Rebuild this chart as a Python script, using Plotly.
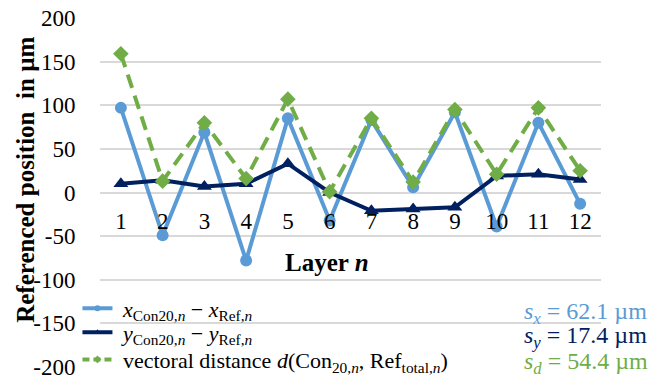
import plotly.graph_objects as go

layers = [1, 2, 3, 4, 5, 6, 7, 8, 9, 10, 11, 12]
x_dev = [97, -49, 69, -78, 85, -32, 83, 6, 92, -39, 80, -13]
y_dev = [10, 14, 7, 10, 33, 0, -21, -19, -17, 19, 21, 15]
d_dist = [159, 13, 80, 16, 107, 1, 85, 12, 95, 21, 97, 25]
y_ticks = [-200, -150, -100, -50, 0, 50, 100, 150, 200]
y_ticktext = ["-200", "-150", "-100", "-50", "0", "50", "100", "150", "200"]
stats = ["62.1", "17.4", "54.4"]
names = ["<i>x</i><sub>Con20,<i>n</i></sub> − <i>x</i><sub>Ref,<i>n</i></sub>",
         "<i>y</i><sub>Con20,<i>n</i></sub> − <i>y</i><sub>Ref,<i>n</i></sub>",
         "vectoral distance <i>d</i>(Con<sub>20,<i>n</i></sub>, Ref<sub>total,<i>n</i></sub>)"]

c_x = "#5B9BD5"
c_y = "#002060"
c_d = "#70AD47"
FONT = "Liberation Serif"

series = [x_dev, y_dev, d_dist]
colors = [c_x, c_y, c_d]
symbols = ["circle", "triangle-up", "diamond"]
msizes = [12, 13, 12]
dashes = ["solid", "solid", "14px,8px"]
legends = ["legend", "legend2", "legend3"]

fig = go.Figure()
for vals, nm, c, s, ms, da in zip(series, names, colors, symbols, msizes, dashes):
    fig.add_trace(go.Scatter(
        x=layers, y=vals, mode="lines+markers", name=nm, showlegend=False,
        line=dict(color=c, width=4, dash=da), marker=dict(symbol=s, size=ms, color=c)))
# legend entries (small markers like the original legend keys)
for nm, c, s, da, lg in zip(names, colors, symbols, dashes, legends):
    fig.add_trace(go.Scatter(
        x=[None], y=[None], mode="lines+markers", name="\u00a0" + nm, legend=lg, showlegend=True,
        line=dict(color=c, width=4, dash="7px,4px" if da != "solid" else "solid"),
        marker=dict(symbol=s, size=6, color=c)))

# hide gridlines below -100 (legend area)
fig.add_shape(type="rect", xref="paper", yref="y", x0=0, x1=1, y0=-125, y1=-215,
              fillcolor="white", line=dict(width=0), layer="between")

stat_labels = ["<i>s<sub>x</sub></i> = " + stats[0] + " µm",
               "<i>s<sub>y</sub></i> = " + stats[1] + " µm",
               "<i>s<sub>d</sub></i> = " + stats[2] + " µm"]
row_y = [0.155, 0.086, 0.011]
for t, c, yy in zip(stat_labels, colors, row_y):
    fig.add_annotation(xref="paper", yref="paper", x=0.843, y=yy, text=t, showarrow=False,
                       xanchor="left", yanchor="middle", font=dict(family=FONT, size=24, color=c))

# axis titles
fig.add_annotation(xref="paper", yref="paper", x=-0.148, y=0.536, text="<b>Referenced position  in µm</b>",
                   textangle=-90, showarrow=False, xanchor="center", yanchor="middle",
                   font=dict(family=FONT, size=25, color="black"))
fig.add_annotation(xref="paper", yref="y", x=0.453, y=-80, text="<b>Layer <i>n</i></b>",
                   showarrow=False, xanchor="center", yanchor="middle",
                   font=dict(family=FONT, size=25, color="black"))

leg_common = dict(x=-0.045, xanchor="left", yanchor="middle", bgcolor="rgba(255,255,255,0)",
                  font=dict(family=FONT, size=22, color="black"))

fig.update_layout(
    width=654, height=392,
    margin=dict(l=100, r=53, t=18, b=25, autoexpand=False),
    plot_bgcolor="white", paper_bgcolor="white",
    font=dict(family=FONT, size=21, color="black"),
    showlegend=True,
    legend=dict(y=row_y[0] + 0.013, **leg_common),
    legend2=dict(y=row_y[1] + 0.013, **leg_common),
    legend3=dict(y=row_y[2] + 0.010, **leg_common),
    xaxis=dict(range=[0.5, 12.5], tickvals=layers, ticktext=[str(v) for v in layers],
               anchor="free", position=0.5, showgrid=False, showline=False, zeroline=False,
               ticks="outside", ticklen=8, tickcolor="rgba(0,0,0,0)", automargin=False,
               tickfont=dict(family=FONT, size=23)),
    yaxis=dict(range=[-200, 200], tickvals=y_ticks, ticktext=y_ticktext, showgrid=True,
               gridcolor="#D9D9D9", gridwidth=1.5, automargin=False, ticklabeloverflow="allow",
               ticks="outside", ticklen=19, tickcolor="rgba(0,0,0,0)",
               zeroline=False, showline=False, tickfont=dict(family=FONT, size=23)),
)

fig.write_html("out.html", config={"displayModeBar": False},
               post_script="document.body.style.margin='0px';")
